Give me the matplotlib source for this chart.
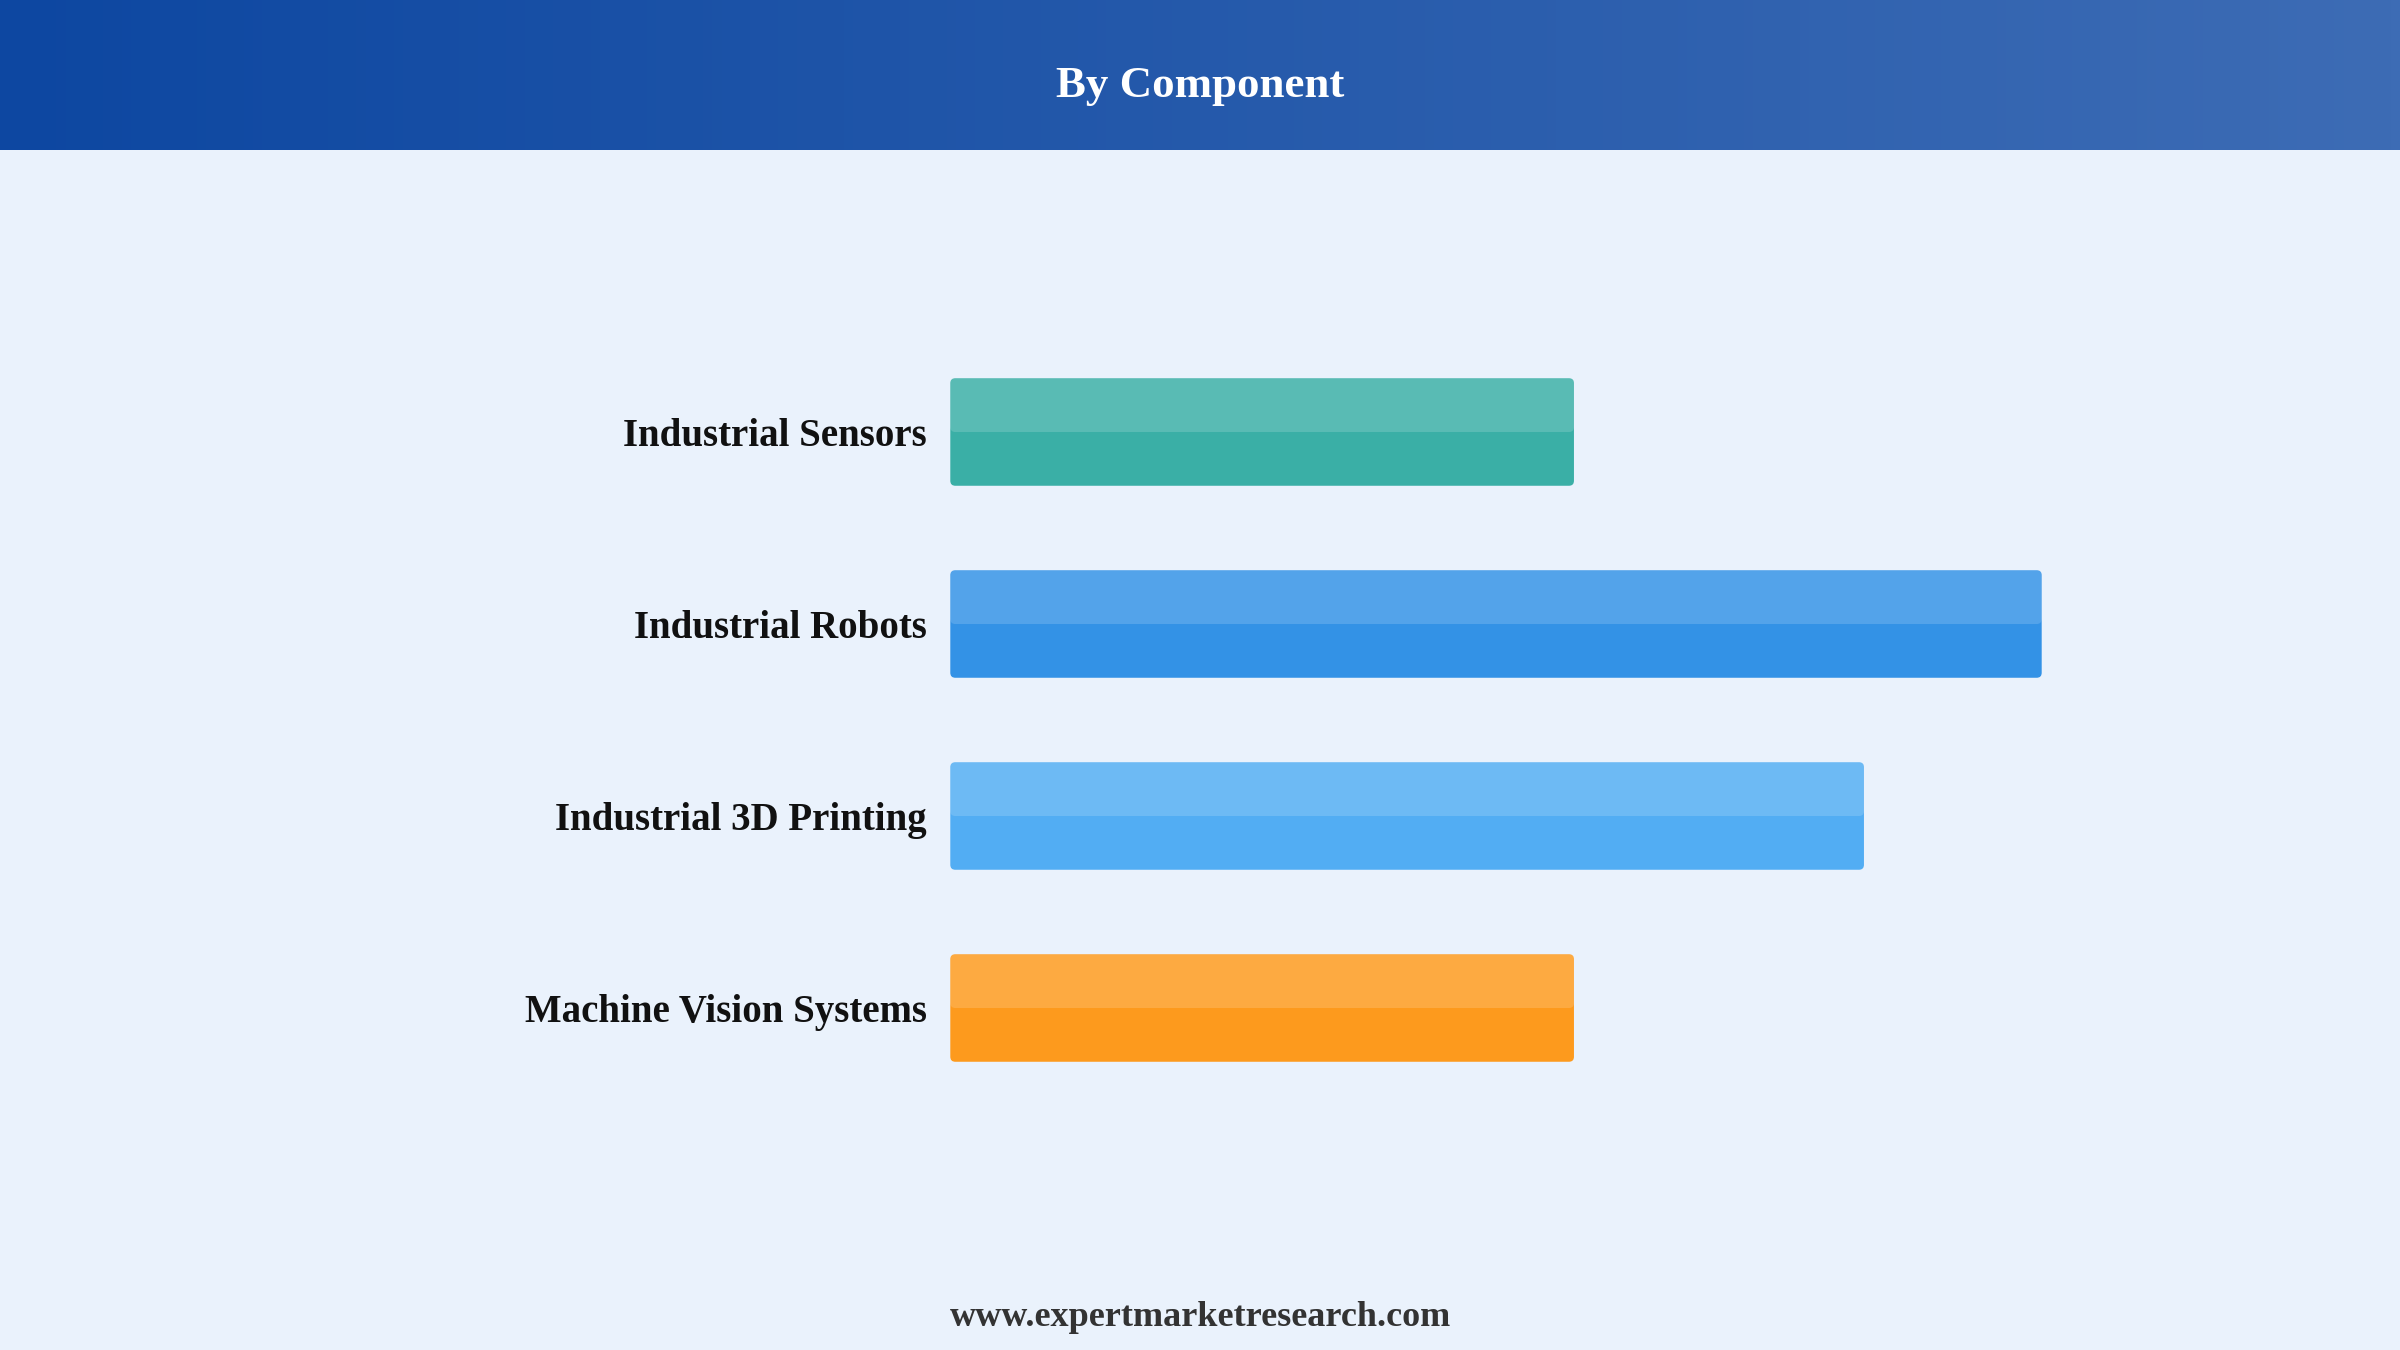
import numpy as np
import matplotlib
matplotlib.use("Agg")
import matplotlib.pyplot as plt
from matplotlib.patches import FancyBboxPatch
from matplotlib.colors import LinearSegmentedColormap

# ---- data ----
categories = ["Industrial Sensors", "Industrial Robots", "Industrial 3D Printing", "Machine Vision Systems"]
values = [20.0, 35.0, 29.3, 20.0]
bar_colors = ["#3AAFA6", "#3392E6", "#52ADF3", "#FD9A1D"]
title = "By Component"
footer = "www.expertmarketresearch.com"

W, H = 2400, 1350
DPI = 100
fig = plt.figure(figsize=(W / DPI, H / DPI), dpi=DPI)
fig.patch.set_facecolor("#EAF2FC")

serif = ["Liberation Serif", "DejaVu Serif"]

# header gradient band
hdr_h = 150
hax = fig.add_axes([0, 1 - hdr_h / H, 1, hdr_h / H])
cmap = LinearSegmentedColormap.from_list("hdr", ["#0D47A1", "#3D6CB5"])
grad = np.linspace(0, 1, 512).reshape(1, -1)
hax.imshow(grad, aspect="auto", cmap=cmap, extent=[0, 1, 0, 1])
hax.set_axis_off()
fig.text(0.5, 1 - 86 / H, title, ha="center", va="center", color="white",
         fontsize=32.3, fontweight="bold", family=serif)

# main bar axes
px_per_unit = 1091.4 / 35.0
xmax = 40
left_px = 950.3
top_px, bot_px = 336, 1104
ax = fig.add_axes([left_px / W, 1 - bot_px / H, xmax * px_per_unit / W, (bot_px - top_px) / H])
ax.set_facecolor("none")
ax.set_xlim(0, xmax)
ax.set_ylim(len(categories) - 0.5, -0.5)

bar_h = 0.56
bars = ax.barh(range(len(categories)), values, height=bar_h, color=bar_colors)

# convert data units per pixel for rounding aspect
ax_w_px = xmax * px_per_unit
ax_h_px = bot_px - top_px
x_per_px = xmax / ax_w_px
y_per_px = len(categories) / ax_h_px
r_px = 5
for b, c in zip(bars, bar_colors):
    x, y = b.get_x(), b.get_y()
    w, h = b.get_width(), b.get_height()
    b.set_visible(False)
    p = FancyBboxPatch((x, y), w, h,
                       boxstyle=f"round,pad=0,rounding_size={r_px * x_per_px}",
                       mutation_aspect=y_per_px / x_per_px,
                       facecolor=c, edgecolor="none", zorder=2)
    ax.add_patch(p)
    hl = FancyBboxPatch((x, y), w, h / 2,
                        boxstyle=f"round,pad=0,rounding_size={r_px * x_per_px}",
                        mutation_aspect=y_per_px / x_per_px,
                        facecolor="white", alpha=0.16, edgecolor="none", zorder=3)
    ax.add_patch(hl)

ax.set_yticks(range(len(categories)))
ax.set_yticklabels(categories, fontsize=28, fontweight="bold", family=serif, color="#111111")
ax.tick_params(axis="y", length=0, pad=17)
ax.set_xticks([])
for s in ax.spines.values():
    s.set_visible(False)

fig.text(0.5, 1 - 1317 / H, footer, ha="center", va="center", color="#333333",
         fontsize=26, fontweight="bold", family=serif)

fig.savefig("out.png", dpi=DPI, facecolor=fig.get_facecolor())
